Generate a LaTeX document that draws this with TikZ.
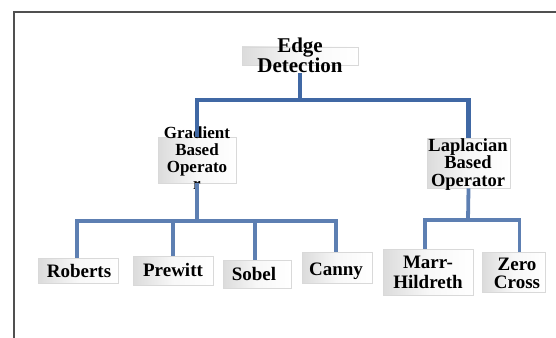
\documentclass[tikz,border=0pt]{standalone}
\usepackage{fontspec}
\setmainfont{Liberation Serif}
\usetikzlibrary{positioning}
\definecolor{linkblue}{RGB}{64,104,164}
\definecolor{framegray}{RGB}{80,80,80}

\begin{document}
\begin{tikzpicture}[x=1pt,y=-1pt]
    \tikzset{box/.style={draw=gray!30, line width=0.6pt, inner sep=0pt,
        left color=gray!28, right color=white, middle color=gray!6},
      lbl/.style={inner sep=0pt, align=center, font=\bfseries\fontsize{19}{17}\selectfont},
      link/.style={draw=linkblue, line width=4.5pt, line join=miter},
      sublink/.style={draw=linkblue!85!white, line width=3.8pt, line join=miter}}
    \useasboundingbox (0,0) rectangle (556,337);
    \draw [framegray, line width=2pt] (14,340) -- (14,12) -- (560,12);
    % boxes
    \node [box, minimum width=116, minimum height=18] (edgebox) at (300,56) {};
    \node [box, minimum width=78, minimum height=46] (gradbox) at (197,160) {};
    \node [box, minimum width=83, minimum height=50] (lapbox) at (468.5,163) {};
    \node [box, minimum width=80, minimum height=25] (robbox) at (78,270.5) {};
    \node [box, minimum width=80, minimum height=29] (prebox) at (173,270.5) {};
    \node [box, minimum width=68, minimum height=28] (sobbox) at (257,274) {};
    \node [box, minimum width=70, minimum height=31] (canbox) at (337,267.5) {};
    \node [box, minimum width=90, minimum height=46] (marbox) at (428,272) {};
    \node [box, minimum width=63, minimum height=40] (zerbox) at (513.5,272) {};
    % texts
    \node [lbl, font=\bfseries\fontsize{21}{20}\selectfont] (edge) at (300,55) {Edge\\Detection};
    \node [lbl, font=\bfseries\fontsize{17}{17}\selectfont] (grad) at (197,158) {Gradient\\Based\\Operato\\r};
    \node [lbl, font=\bfseries\fontsize{18.5}{17.5}\selectfont] (lap) at (468,164.5) {Laplacian\\Based\\Operator};
    \node [lbl, anchor=base] (rob) at (79,277) {Roberts};
    \node [lbl, anchor=base] (pre) at (173,276) {Prewitt};
    \node [lbl, anchor=base] (sob) at (254,280) {Sobel};
    \node [lbl, anchor=base] (can) at (336,275) {Canny};
    \node [lbl, font=\bfseries\fontsize{19}{20}\selectfont] (mar) at (428,272) {Marr-\\Hildreth};
    \node [lbl, font=\bfseries\fontsize{19}{18}\selectfont] (zer) at (517,273) {Zero\\Cross};
    % connectors
    \coordinate (topbus) at (300,100);
    \coordinate (leftbus) at (197,221);
    \coordinate (rightbus) at (468,220);
    \draw [link] (edge.south) -- (topbus);
    \draw [link] (gradbox.north) |- (topbus) -| (lapbox.north);
    \draw [sublink] (gradbox.south) -- (leftbus);
    \draw [sublink] ([xshift=-1pt]robbox.north) |- (leftbus) -| ([xshift=-1pt]canbox.north);
    \draw [sublink] (prebox.north) -- (prebox.north |- leftbus);
    \draw [sublink] ([xshift=-2pt]sobbox.north) -- ([xshift=-2pt]sobbox.north |- leftbus);
    \draw [sublink] (lapbox.south) -- (rightbus);
    \draw [sublink] ([xshift=-3pt]marbox.north) |- (rightbus) -| ([xshift=6pt]zerbox.north);
\end{tikzpicture}
\end{document}
